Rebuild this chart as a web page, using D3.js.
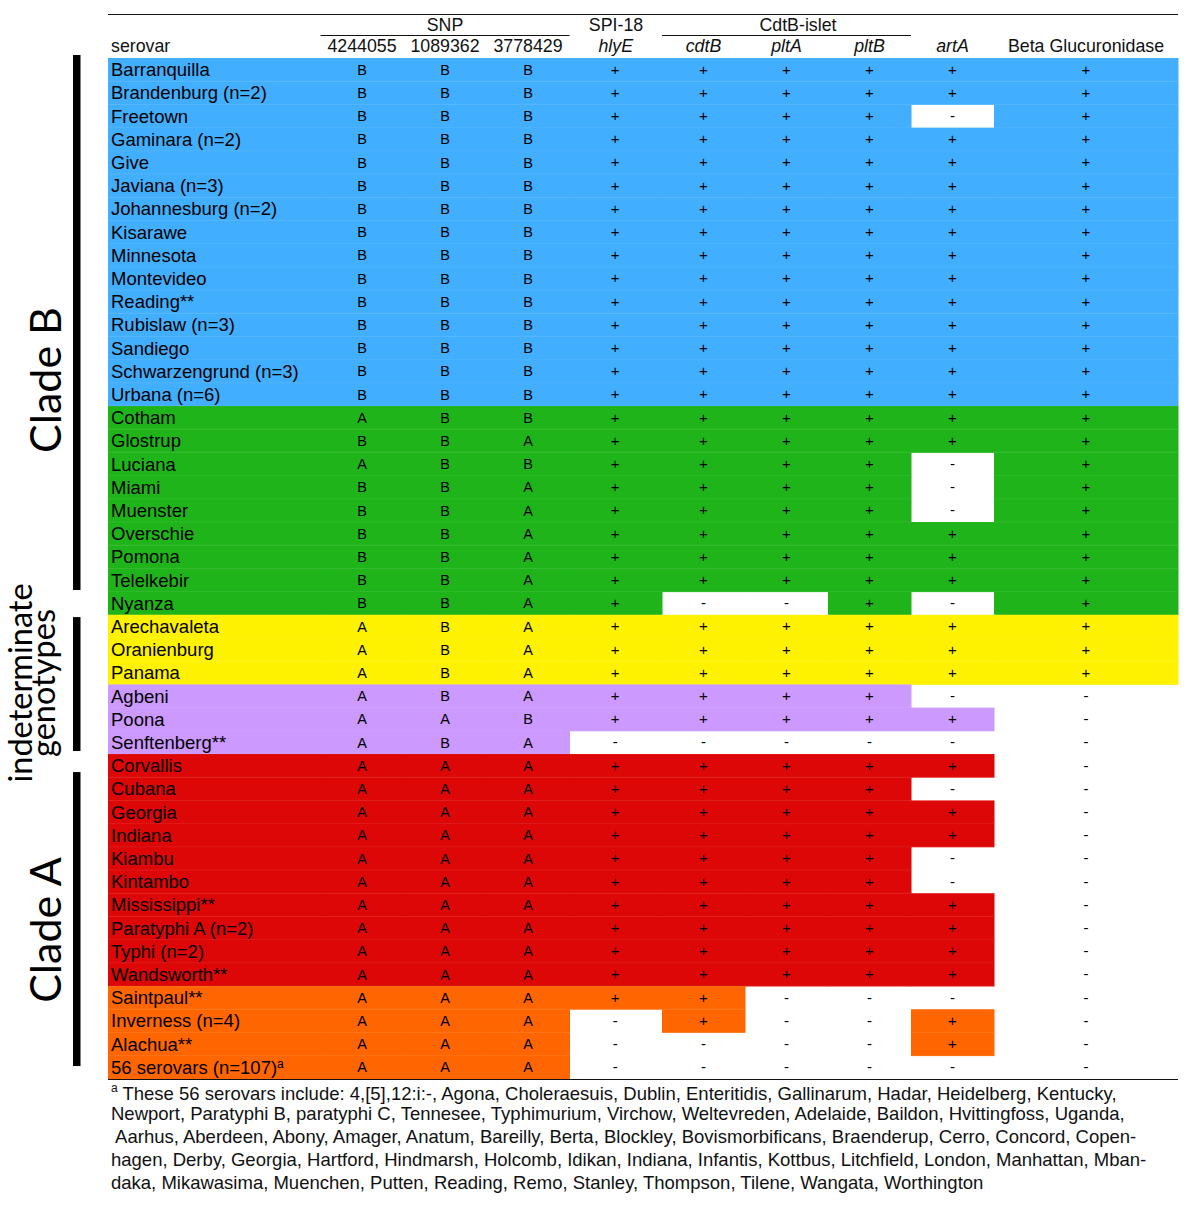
<!DOCTYPE html>
<html><head><meta charset="utf-8">
<script src="https://cdn.jsdelivr.net/npm/d3@7"></script>
<style>body{margin:0;background:#fff}svg{display:block}</style>
</head><body>
<svg id="c" width="1200" height="1207"></svg>
<script>
const serovars = ["Barranquilla","Brandenburg (n=2)","Freetown","Gaminara (n=2)","Give","Javiana (n=3)","Johannesburg (n=2)","Kisarawe","Minnesota","Montevideo","Reading**","Rubislaw (n=3)","Sandiego","Schwarzengrund (n=3)","Urbana (n=6)",
"Cotham","Glostrup","Luciana","Miami","Muenster","Overschie","Pomona","Telelkebir","Nyanza",
"Arechavaleta","Oranienburg","Panama",
"Agbeni","Poona","Senftenberg**",
"Corvallis","Cubana","Georgia","Indiana","Kiambu","Kintambo","Mississippi**","Paratyphi A (n=2)","Typhi (n=2)","Wandsworth**",
"Saintpaul**","Inverness (n=4)","Alachua**","56 serovars (n=107)"];
const groups = [..."BBBBBBBBBBBBBBB", ..."GGGGGGGGG", ..."YYY", ..."PPP", ..."RRRRRRRRRR", ..."OOOO"];
const snp4244055 = [..."BBBBBBBBBBBBBBB", ..."ABABBBBBB", ..."AAA", ..."AAA", ..."AAAAAAAAAA", ..."AAAA"];
const snp1089362 = [..."BBBBBBBBBBBBBBB", ..."BBBBBBBBB", ..."BBB", ..."BAB", ..."AAAAAAAAAA", ..."AAAA"];
const snp3778429 = [..."BBBBBBBBBBBBBBB", ..."BABAAAAAA", ..."AAA", ..."ABA", ..."AAAAAAAAAA", ..."AAAA"];
const hlyE  = [..."+++++++++++++++", ..."+++++++++", ..."+++", ..."++-", ..."++++++++++", ..."+---"];
const cdtB  = [..."+++++++++++++++", ..."++++++++-", ..."+++", ..."++-", ..."++++++++++", ..."++--"];
const pltA  = [..."+++++++++++++++", ..."++++++++-", ..."+++", ..."++-", ..."++++++++++", ..."----"];
const pltB  = [..."+++++++++++++++", ..."+++++++++", ..."+++", ..."++-", ..."++++++++++", ..."----"];
const artA  = [..."++-++++++++++++", ..."++---+++-", ..."+++", ..."-+-", ..."+-++--++++", ..."-++-"];
const betaGluc = [..."+++++++++++++++", ..."+++++++++", ..."+++", ..."---", ..."----------", ..."----"];
const groupColors = {B:"#42aefe", G:"#1fb51a", Y:"#fff200", P:"#cc99ff", R:"#dd0707", O:"#ff6600"};
const cladeLabels = [
  {from:-0.13, to:22.93},
  {from:24.1, to:29.87},
  {from:30.78, to:43.45}
];
const footnote = [
  " These 56 serovars include: 4,[5],12:i:-, Agona, Choleraesuis, Dublin, Enteritidis, Gallinarum, Hadar, Heidelberg, Kentucky,",
  "Newport, Paratyphi B, paratyphi C, Tennesee, Typhimurium, Virchow, Weltevreden, Adelaide, Baildon, Hvittingfoss, Uganda,",
  " Aarhus, Aberdeen, Abony, Amager, Anatum, Bareilly, Berta, Blockley, Bovismorbificans, Braenderup, Cerro, Concord, Copen-",
  "hagen, Derby, Georgia, Hartford, Hindmarsh, Holcomb, Idikan, Indiana, Infantis, Kottbus, Litchfield, London, Manhattan, Mban-",
  "daka, Mikawasima, Muenchen, Putten, Reading, Remo, Stanley, Thompson, Tilene, Wangata, Worthington"
];

const columns = [
  {key:"serovar", head:"serovar", x0:108, x1:320.5, always:true},
  {key:"snp1", head:"4244055", x0:320.5, x1:403.5, vals:snp4244055, always:true},
  {key:"snp2", head:"1089362", x0:403.5, x1:486.5, vals:snp1089362, always:true},
  {key:"snp3", head:"3778429", x0:486.5, x1:569.5, vals:snp3778429, always:true},
  {key:"hlyE", head:"hlyE", x0:569.5, x1:662, vals:hlyE, italic:true},
  {key:"cdtB", head:"cdtB", x0:662, x1:745, vals:cdtB, italic:true},
  {key:"pltA", head:"pltA", x0:745, x1:828, vals:pltA, italic:true},
  {key:"pltB", head:"pltB", x0:828, x1:911, vals:pltB, italic:true},
  {key:"artA", head:"artA", x0:911, x1:994, vals:artA, italic:true},
  {key:"beta", head:"Beta Glucuronidase", x0:994, x1:1178, vals:betaGluc}
];

const svg = d3.select("#c");
const font = "'Liberation Sans', Arial, sans-serif";
const y = d3.scaleBand().domain(d3.range(serovars.length)).range([58, 58 + 23.2*serovars.length]).padding(0);
const rowY = d3.scaleLinear().domain([0, serovars.length]).range(y.range());

const cells = [];
serovars.forEach((s,i)=>{
  columns.forEach(c=>{
    const v = c.vals ? c.vals[i] : s;
    cells.push({i, c, v, filled: c.always || v === "+"});
  });
});
svg.append("g").selectAll("rect").data(cells.filter(d=>d.filled)).join("rect")
  .attr("x", d=>d.c.x0).attr("width", d=>d.c.x1-d.c.x0+0.5)
  .attr("y", d=>y(d.i)).attr("height", y.bandwidth()+0.5)
  .attr("fill", d=>groupColors[groups[d.i]]);

svg.append("g").selectAll("line").data(d3.range(1, serovars.length)).join("line")
  .attr("x1",108).attr("x2",1178).attr("y1",d=>y(d)).attr("y2",d=>y(d))
  .attr("stroke","#fff").attr("stroke-opacity",0.08);

svg.append("g").selectAll("text").data(cells).join("text")
  .attr("x", d=>d.c.key==="serovar" ? 111 : (d.c.x0+d.c.x1)/2 + (d.c.key==="hlyE"? -0.5:0))
  .attr("y", d=>y(d.i)+y.bandwidth()/2)
  .attr("dy", d=>d.v==="+"||d.v==="-" ? "0.33em" : "0.36em")
  .attr("text-anchor", d=>d.c.key==="serovar"?"start":"middle")
  .attr("font-family", font)
  .attr("font-size", d=>d.c.key==="serovar"?18.5:(d.c.key.startsWith("snp")?14.5:15))
  .attr("fill","#000")
  .each(function(d){
    const t = d3.select(this);
    if (d.c.key==="serovar" && d.v.startsWith("56 serovars")) {
      t.text(d.v);
      t.append("tspan").attr("dy","-0.5em").attr("font-size",12).text("a");
    } else t.text(d.v);
  });

const hdr = svg.append("g").attr("font-family", font).attr("fill","#111");
hdr.append("line").attr("x1",108).attr("x2",1178).attr("y1",14.5).attr("y2",14.5).attr("stroke","#111").attr("stroke-width",1.2);
hdr.append("line").attr("x1",108).attr("x2",1178).attr("y1",1079.5).attr("y2",1079.5).attr("stroke","#111").attr("stroke-width",1.2);
hdr.selectAll("text.h2").data(columns).join("text").attr("class","h2")
  .attr("x", d=>d.key==="serovar"?111:(d.x0+d.x1)/2)
  .attr("y", 52).attr("font-size",17.8)
  .attr("text-anchor", d=>d.key==="serovar"?"start":"middle")
  .attr("font-style", d=>d.italic?"italic":"normal")
  .text(d=>d.head);
const spans = [
  {label:"SNP", x0:320.5, x1:569.5, cx:445, line:true},
  {label:"SPI-18", x0:569.5, x1:662, cx:616, line:false},
  {label:"CdtB-islet", x0:662, x1:911, cx:798, line:true}
];
hdr.selectAll("text.h1").data(spans).join("text").attr("class","h1")
  .attr("x", d=>d.cx).attr("y",31).attr("font-size",17.8).attr("text-anchor","middle").text(d=>d.label);
hdr.selectAll("line.u").data(spans.filter(d=>d.line)).join("line").attr("class","u")
  .attr("x1",d=>d.x0).attr("x2",d=>d.x1).attr("y1",35.5).attr("y2",35.5).attr("stroke","#111").attr("stroke-width",1.2);

const cl = svg.append("g");
cl.selectAll("rect").data(cladeLabels).join("rect")
  .attr("x",73).attr("width",7.5).attr("y",d=>rowY(d.from)).attr("height",d=>rowY(d.to)-rowY(d.from)).attr("fill","#000");
const lab = cl.append("g").attr("font-family","Lato, 'Open Sans', sans-serif").attr("fill","#000");
lab.append("text").attr("transform","translate(61,380) rotate(-90)").attr("text-anchor","middle").attr("font-size",43).text("Clade B");
lab.append("text").attr("transform","translate(61,930) rotate(-90)").attr("text-anchor","middle").attr("font-size",43).text("Clade A");
lab.append("text").attr("transform","translate(32,683) rotate(-90)").attr("text-anchor","middle").attr("font-size",32.5).text("indeterminate");
lab.append("text").attr("transform","translate(55,683) rotate(-90)").attr("text-anchor","middle").attr("font-size",32.5).text("genotypes");

const fn = svg.append("g").attr("font-family", font).attr("font-size",18.5).attr("fill","#111");
footnote.forEach((line,i)=>{
  const t = fn.append("text").attr("x",111).attr("y",1097 + i*23.1).style("white-space","pre");
  if (i===0) {
    t.append("tspan").attr("font-size",12).attr("dy","-0.45em").text("a");
    t.append("tspan").attr("dy","0.45em").text(line);
  } else t.text(line);
});
</script>
</body></html>
